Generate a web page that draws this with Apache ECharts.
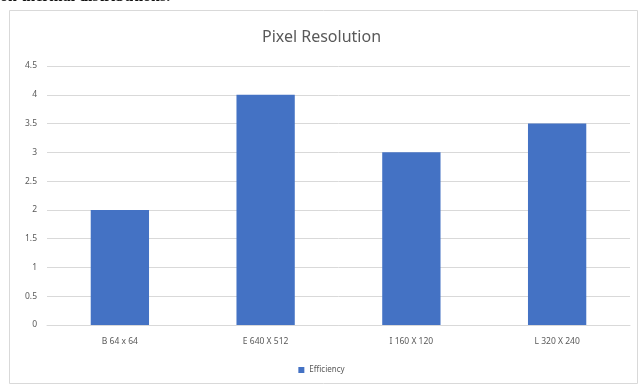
<!DOCTYPE html>
<html>
<head>
<meta charset="utf-8">
<script src="https://cdn.jsdelivr.net/npm/echarts@6/dist/echarts.min.js"></script>
<style>
  html, body { margin: 0; padding: 0; background: #fff; }
  #chart { width: 643px; height: 387px; }
</style>
</head>
<body>
<div id="chart"></div>
<script>
// Efficiency by pixel resolution
const categories = ['B 64 x 64', 'E 640 X 512', 'I 160 X 120', 'L 320 X 240'];
const efficiency = [2, 4, 3, 3.5];
const seriesName = 'Efficiency';
const chartTitle = 'Pixel Resolution';

const chart = echarts.init(document.getElementById('chart'));
chart.setOption({
  backgroundColor: '#ffffff',
  animation: false,
  title: {
    text: chartTitle,
    left: 'center',
    top: 24,
    textStyle: { fontFamily: 'Noto Sans', fontSize: 16, fontWeight: 'normal', color: '#595959' }
  },
  graphic: [
    {
      type: 'text', left: 0, top: -11,
      style: { text: 'on thermal distributions.', font: 'bold 16px "Liberation Serif"', fill: '#111' }
    },
    {
      type: 'rect', shape: { x: 9.5, y: 10.5, width: 628, height: 373 },
      style: { fill: 'none', stroke: '#d9d9d9', lineWidth: 1 }, z: -1
    }
  ],
  grid: { left: 47, right: 13, top: 66, bottom: 62 },
  legend: {
    data: [seriesName],
    bottom: 8,
    left: 'center',
    itemWidth: 6, itemHeight: 6,
    icon: 'rect',
    textStyle: { fontFamily: 'Noto Sans', fontSize: 8, color: '#595959' }
  },
  xAxis: {
    type: 'category',
    data: categories,
    axisLine: { lineStyle: { color: '#d9d9d9' } },
    axisTick: { show: false },
    axisLabel: { fontFamily: 'Noto Sans', fontSize: 8.5, color: '#595959', margin: 12 }
  },
  yAxis: {
    type: 'value',
    min: 0, max: 4.5, interval: 0.5,
    axisLine: { show: false },
    axisTick: { show: false },
    splitLine: { lineStyle: { color: '#d9d9d9' } },
    axisLabel: { fontFamily: 'Noto Sans', fontSize: 8.5, color: '#595959', margin: 10 }
  },
  series: [{
    name: seriesName,
    type: 'bar',
    data: efficiency,
    barWidth: '40%',
    itemStyle: { color: '#4472C4' }
  }]
});
</script>
</body>
</html>
